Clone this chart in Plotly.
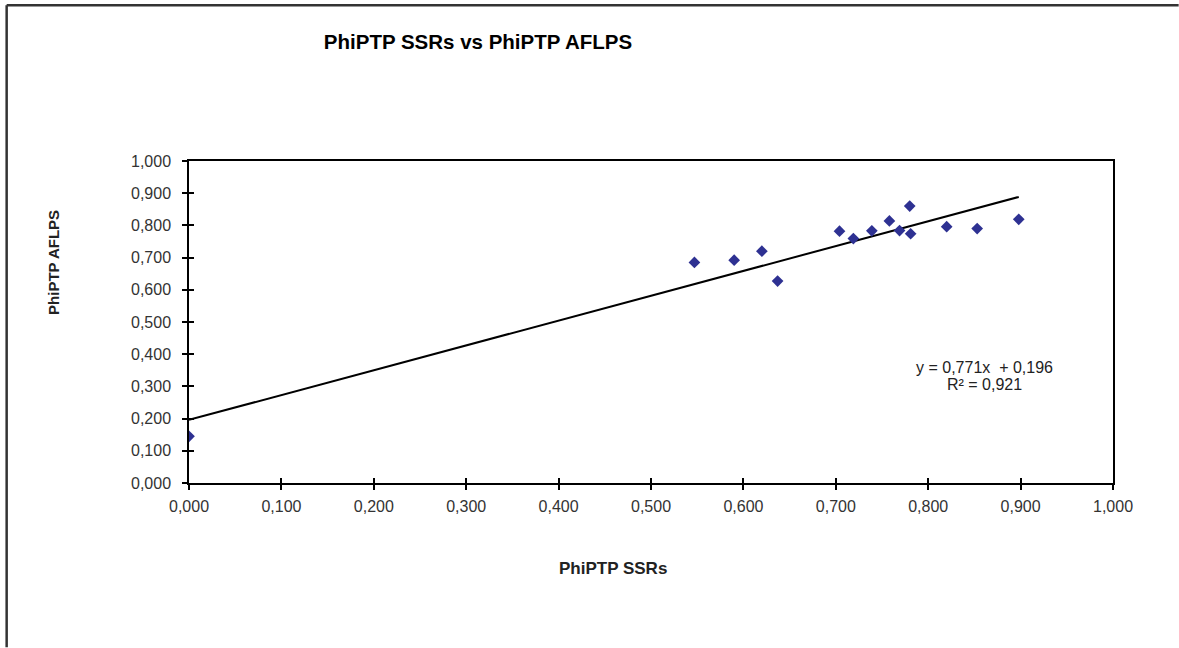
import plotly.graph_objects as go

# Data
ssr_values = [0.000, 0.547, 0.590, 0.620, 0.637, 0.704, 0.719, 0.739, 0.758,
              0.769, 0.780, 0.781, 0.820, 0.853, 0.898]
aflp_values = [0.145, 0.685, 0.692, 0.720, 0.627, 0.782, 0.759, 0.783, 0.814,
               0.784, 0.860, 0.774, 0.796, 0.790, 0.819]
trend_slope = 0.771
trend_intercept = 0.196
tick_values = [0.0, 0.1, 0.2, 0.3, 0.4, 0.5, 0.6, 0.7, 0.8, 0.9, 1.0]
tick_labels = ["0,000", "0,100", "0,200", "0,300", "0,400", "0,500",
               "0,600", "0,700", "0,800", "0,900", "1,000"]

trend_x = [min(ssr_values), max(ssr_values)]
trend_y = [trend_slope * v + trend_intercept for v in trend_x]

W, H = 1179, 648
L, R, T, B = 188.5, 65.7, 161, 164.5
pw, ph = W - L - R, H - T - B

def px_x(p):
    return (p - L) / pw

def px_y(p):
    return (H - B - p) / ph

FONT = "Liberation Sans, Arial, sans-serif"
TICKC = "#333333"

fig = go.Figure()
fig.add_trace(go.Scatter(
    x=trend_x, y=trend_y, mode="lines",
    line=dict(color="black", width=2), showlegend=False, hoverinfo="skip"))
fig.add_trace(go.Scatter(
    x=ssr_values, y=aflp_values, mode="markers",
    marker=dict(symbol="diamond", size=9, color="#2E3192"),
    showlegend=False))
# invisible trace for overlay axes (inner half of crossing ticks)
fig.add_trace(go.Scatter(x=[0], y=[0], xaxis="x2", yaxis="y2", mode="markers",
                         marker=dict(opacity=0), showlegend=False, hoverinfo="skip"))

axis_common = dict(range=[0, 1], tickmode="array", tickvals=tick_values,
                   showgrid=False, zeroline=False)

fig.update_layout(
    width=W, height=H,
    margin=dict(l=L, r=R, t=T, b=B, pad=0),
    paper_bgcolor="white", plot_bgcolor="white",
    font=dict(family=FONT, color=TICKC),
    title=dict(text="<b>PhiPTP SSRs vs PhiPTP AFLPS</b>",
               x=478 / W, xanchor="center", y=1 - 42 / H, yanchor="middle",
               font=dict(family=FONT, size=20.5, color="black")),
    xaxis=dict(**axis_common, ticktext=tick_labels,
               showline=True, linecolor="black", linewidth=1.5, mirror=True,
               ticks="outside", ticklen=5, tickwidth=1.5, tickcolor="black",
               tickfont=dict(family=FONT, size=16, color=TICKC),
               ticklabelstandoff=3),
    yaxis=dict(**axis_common, ticktext=tick_labels,
               showline=True, linecolor="black", linewidth=1.5, mirror=True,
               ticks="outside", ticklen=5, tickwidth=1.5, tickcolor="black",
               tickfont=dict(family=FONT, size=16, color=TICKC),
               ticklabelstandoff=8),
    xaxis2=dict(**axis_common, overlaying="x", anchor="y", side="bottom",
                showline=False, showticklabels=False,
                ticks="inside", ticklen=5, tickwidth=1.5, tickcolor="black"),
    yaxis2=dict(**axis_common, overlaying="y", anchor="x", side="left",
                showline=False, showticklabels=False,
                ticks="inside", ticklen=5, tickwidth=1.5, tickcolor="black"),
    annotations=[
        dict(text="<b>PhiPTP SSRs</b>", xref="paper", yref="paper",
             x=px_x(613), y=px_y(569), xanchor="center", yanchor="middle",
             showarrow=False, font=dict(family=FONT, size=17, color="#222222")),
        dict(text="<b>PhiPTP AFLPS</b>", xref="paper", yref="paper",
             x=px_x(53), y=px_y(262.5), xanchor="center", yanchor="middle",
             textangle=-90,
             showarrow=False, font=dict(family=FONT, size=15, color="#222222")),
        dict(text="y = 0,771x  + 0,196", xref="paper", yref="paper",
             x=px_x(985), y=px_y(368), xanchor="center", yanchor="middle",
             showarrow=False, font=dict(family=FONT, size=16, color="#222222")),
        dict(text="R² = 0,921", xref="paper", yref="paper",
             x=px_x(985), y=px_y(385), xanchor="center", yanchor="middle",
             showarrow=False, font=dict(family=FONT, size=16, color="#222222")),
    ],
    shapes=[
        dict(type="line", xref="paper", yref="paper",
             x0=px_x(6), x1=px_x(6), y0=px_y(5), y1=px_y(648),
             line=dict(color="#333333", width=2.5)),
        dict(type="line", xref="paper", yref="paper",
             x0=px_x(6), x1=px_x(1179), y0=px_y(5), y1=px_y(5),
             line=dict(color="#333333", width=2.5)),
    ],
)

fig.write_html("out.html",
               config={"displayModeBar": False},
               post_script="document.body.style.margin='0';"
                           "document.body.style.overflow='hidden';")
